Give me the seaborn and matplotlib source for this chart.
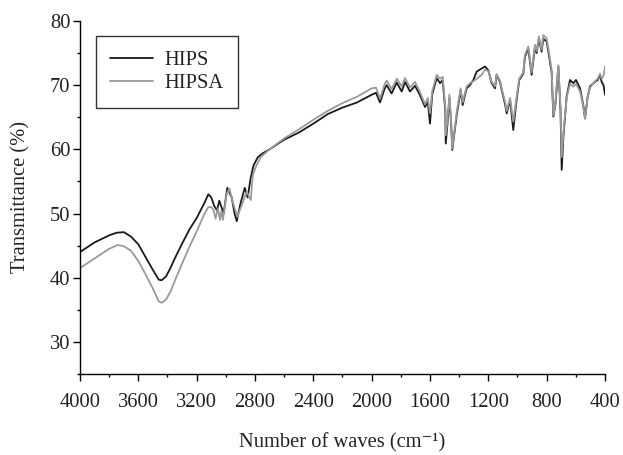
import matplotlib
matplotlib.use("Agg")
import matplotlib.pyplot as plt
from matplotlib.ticker import MultipleLocator
import seaborn as sns
import pandas as pd

# HIPS (black) spectrum
hips_x = [4000, 3900, 3800, 3750, 3700, 3650, 3600, 3550, 3500, 3460, 3440, 3410, 3380,
          3350, 3300, 3250, 3200, 3150, 3120, 3100, 3080, 3060, 3045, 3030, 3015, 2990,
          2960, 2940, 2925, 2900, 2870, 2850, 2830, 2810, 2780, 2745, 2700, 2600, 2500,
          2400, 2300, 2200, 2100, 2000, 1970, 1943, 1910, 1897, 1863, 1828, 1794, 1771,
          1737, 1703, 1670, 1634, 1615, 1600, 1585, 1554, 1531, 1513, 1495, 1492, 1480,
          1467, 1455, 1447, 1430, 1417, 1390, 1376, 1349, 1326, 1303, 1280, 1245, 1223,
          1200, 1177, 1154, 1143, 1120, 1108, 1085, 1074, 1051, 1029, 1010, 988, 960,
          949, 926, 903, 880, 869, 853, 835, 823, 800, 780, 766, 754, 740, 720, 705, 697,
          685, 663, 640, 617, 599, 571, 550, 537, 520, 503, 469, 450, 434, 423, 410, 400]
hips_y = [44.0, 45.5, 46.6, 47.0, 47.1, 46.4, 45.2, 43.2, 41.2, 39.7, 39.6, 40.2, 41.5,
          43.0, 45.3, 47.5, 49.3, 51.5, 53.0, 52.5, 51.2, 50.5, 52.0, 51.0, 50.0, 54.0,
          52.5, 50.0, 48.8, 51.5, 54.0, 52.5, 55.5, 57.5, 58.8, 59.4, 60.0, 61.5, 62.6,
          64.0, 65.5, 66.5, 67.3, 68.5, 68.8, 67.3, 69.5, 70.0, 68.7, 70.4, 69.0, 70.5,
          69.0, 69.9, 68.5, 66.6, 67.4, 64.0, 68.5, 71.1, 70.3, 70.8, 66.0, 60.9, 64.0,
          68.0, 64.0, 59.9, 63.0, 65.3, 69.2, 66.9, 69.5, 70.0, 70.8, 72.1, 72.6, 72.9,
          72.3, 70.3, 69.5, 71.6, 70.5, 69.2, 67.0, 65.6, 67.7, 63.0, 67.0, 70.8, 71.8,
          74.4, 75.7, 71.6, 76.0, 75.0, 77.3, 75.2, 77.2, 76.8, 74.0, 72.0, 65.1, 67.0,
          72.9, 66.0, 56.8, 62.0, 68.2, 70.8, 70.3, 70.8, 69.5, 67.0, 64.8, 68.0, 69.8,
          70.5, 70.8, 71.6, 70.5, 70.0, 68.5]

# HIPSA (grey) spectrum
hipsa_x = [4000, 3900, 3800, 3740, 3700, 3650, 3600, 3550, 3500, 3460, 3440, 3410, 3380,
           3350, 3300, 3250, 3200, 3150, 3120, 3100, 3085, 3070, 3055, 3040, 3030, 3020,
           2994, 2976, 2950, 2921, 2891, 2857, 2829, 2815, 2790, 2760, 2700, 2600, 2500,
           2400, 2300, 2200, 2100, 2000, 1970, 1943, 1910, 1897, 1863, 1828, 1794, 1771,
           1737, 1703, 1670, 1634, 1615, 1600, 1585, 1554, 1531, 1513, 1495, 1492, 1480,
           1467, 1455, 1447, 1430, 1417, 1390, 1376, 1349, 1326, 1303, 1280, 1245, 1223,
           1200, 1177, 1154, 1143, 1120, 1108, 1085, 1074, 1051, 1029, 1010, 988, 960,
           949, 926, 903, 880, 869, 853, 835, 823, 800, 780, 766, 754, 740, 720, 705, 697,
           685, 663, 640, 617, 599, 571, 550, 537, 520, 503, 469, 450, 434, 423, 410, 400]
hipsa_y = [41.5, 43.0, 44.5, 45.1, 44.9, 44.2, 42.6, 40.5, 38.3, 36.3, 36.1, 36.6, 37.8,
           39.5, 42.2, 44.8, 47.2, 49.8, 51.0, 51.0, 50.6, 49.2, 50.8, 49.0, 50.5, 49.0,
           53.1, 53.9, 51.6, 49.5, 51.3, 53.4, 52.1, 56.0, 57.5, 58.8, 60.0, 61.7, 63.1,
           64.6, 66.0, 67.2, 68.2, 69.5, 69.6, 67.9, 70.2, 70.7, 69.4, 71.0, 69.8, 71.1,
           69.6, 70.5, 69.0, 67.0, 68.0, 65.6, 69.0, 71.6, 71.0, 71.3, 66.5, 62.2, 64.5,
           68.5, 64.2, 60.1, 63.3, 65.8, 69.5, 67.3, 69.8, 70.3, 70.6, 71.0, 71.6, 72.4,
           72.2, 70.5, 69.8, 71.7, 70.7, 69.4, 67.4, 66.0, 68.0, 64.3, 67.5, 71.0, 72.0,
           74.7, 76.0, 72.0, 76.3, 75.3, 77.6, 75.5, 77.8, 77.3, 74.5, 72.4, 65.3, 67.2,
           73.1, 66.5, 58.8, 62.5, 68.0, 70.2, 69.8, 70.2, 69.0, 66.8, 64.8, 68.0, 69.6,
           70.6, 71.0, 71.8, 71.0, 71.5, 72.9]

series_names = ["HIPS", "HIPSA"]
series_colors = ["#1a1a1a", "#9a9a9a"]
x_ticks = [4000, 3600, 3200, 2800, 2400, 2000, 1600, 1200, 800, 400]
y_ticks = [30, 40, 50, 60, 70, 80]

df = pd.concat([
    pd.DataFrame({"wave": hips_x, "T": hips_y, "Sample": series_names[0]}),
    pd.DataFrame({"wave": hipsa_x, "T": hipsa_y, "Sample": series_names[1]}),
], ignore_index=True)

sns.set_theme(style="ticks")
plt.rcParams["font.family"] = ["Liberation Serif", "DejaVu Serif"]

FS = 14.8
fig = plt.figure(figsize=(6.23, 4.55), dpi=100)
ax = fig.add_axes([0.1284, 0.178, 0.8427, 0.776])

sns.lineplot(data=df, x="wave", y="T", hue="Sample", hue_order=series_names,
             palette=dict(zip(series_names, series_colors)), estimator=None,
             sort=False, linewidth=1.3, ax=ax)

ax.set_xlim(4000, 400)
ax.set_ylim(25, 80)
ax.set_xticks(x_ticks)
ax.set_yticks(y_ticks)
ax.xaxis.set_minor_locator(MultipleLocator(200))
ax.yaxis.set_minor_locator(MultipleLocator(5))
for s in ["top", "right"]:
    ax.spines[s].set_visible(False)
for s in ["left", "bottom"]:
    ax.spines[s].set_color("black")
    ax.spines[s].set_linewidth(1.0)
ax.tick_params(which="major", direction="out", length=5, width=1.0, colors="black",
               labelsize=FS, labelcolor="#222222")
ax.tick_params(which="minor", direction="out", length=2.5, width=1.0, colors="black")
ax.tick_params(axis="x", which="major", pad=9)
ax.tick_params(axis="y", which="major", pad=2)

ax.set_xlabel("Number of waves (cm\u207b\u00b9)", fontsize=FS, color="#222222", labelpad=15)
ax.set_ylabel("Transmittance (%)", fontsize=FS, color="#222222", labelpad=14)

leg = ax.legend(loc="upper left", bbox_to_anchor=(0.03, 0.957), borderaxespad=0,
                fontsize=FS, frameon=True, fancybox=False, handlelength=2.1,
                handletextpad=0.55, borderpad=0.7, labelspacing=0.2)
leg.get_frame().set_edgecolor("black")
leg.get_frame().set_linewidth(1.0)
for t in leg.get_texts():
    t.set_color("#222222")

fig.savefig("out.png", dpi=100)
